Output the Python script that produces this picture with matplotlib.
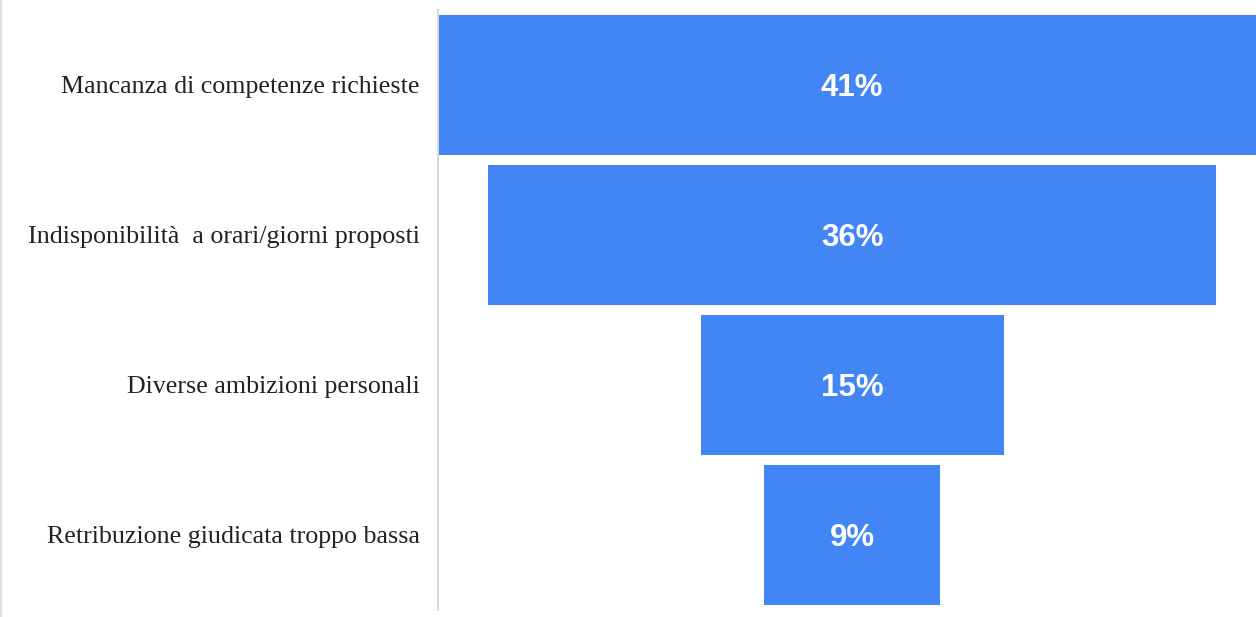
import matplotlib
matplotlib.use("Agg")
import matplotlib.pyplot as plt
from matplotlib.lines import Line2D

# Data
categories = [
    "Mancanza di competenze richieste",
    "Indisponibilità  a orari/giorni proposti",
    "Diverse ambizioni personali",
    "Retribuzione giudicata troppo bassa",
]
values = [41, 36, 15, 8.7]  # bar widths
value_labels = ["41%", "36%", "15%", "9%"]

BLUE = "#4285F4"
W, H = 1256, 617

fig = plt.figure(figsize=(W / 100, H / 100), dpi=100)
ax = fig.add_axes([438 / W, 7 / H, 1 - 438 / W, 600 / H])

ypos = list(range(len(values)))
lefts = [-v / 2 for v in values]
ax.barh(ypos, values, left=lefts, height=140 / 150, color=BLUE)

for y, lab in zip(ypos, value_labels):
    ax.text(0, y + 0.02, lab, ha="center", va="center", color="white",
            fontsize=22.5, fontweight="bold", family="Liberation Sans")

ax.set_xlim(-20.5, 20.0)
ax.set_ylim(3.5, -0.5)
ax.set_yticks(ypos)
ax.set_yticklabels(categories, family="Liberation Serif", fontsize=18.7,
                   color="#222222")
ax.tick_params(axis="y", length=0, pad=13)
ax.set_xticks([])
for s in ["top", "right", "bottom"]:
    ax.spines[s].set_visible(False)
ax.spines["left"].set_color("#d9d9d9")
ax.spines["left"].set_linewidth(1.5)

# faint frame line at the left edge
fig.add_artist(Line2D([1 / W, 1 / W], [0, 1], color="#e0e0e0", lw=1.5,
                      transform=fig.transFigure))

fig.savefig("out.png", dpi=100)
